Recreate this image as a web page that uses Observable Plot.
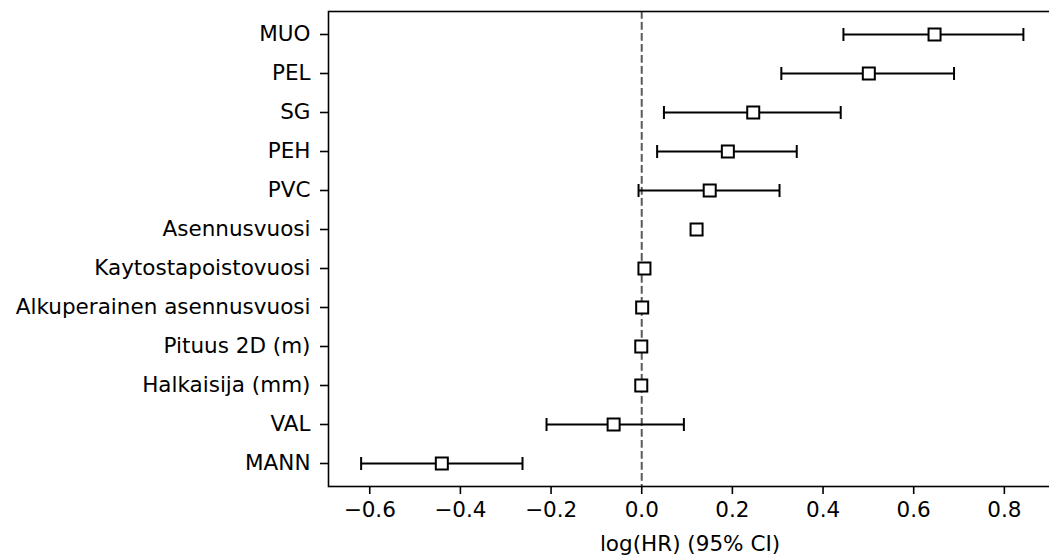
<!DOCTYPE html>
<html>
<head>
<meta charset="utf-8">
<script src="https://cdn.jsdelivr.net/npm/d3@7"></script>
<script src="https://cdn.jsdelivr.net/npm/@observablehq/plot@0.6"></script>
<style>
  html, body { margin: 0; padding: 0; background: #fff; overflow: hidden; }
  svg { overflow: hidden; }
  g[aria-label$="tick"] path, g[aria-label$="tick"] line { stroke-width: 1.6px; }
</style>
</head>
<body>
<div id="chart"></div>
<script>
const covariates = ["MUO", "PEL", "SG", "PEH", "PVC", "Asennusvuosi",
  "Kaytostapoistovuosi", "Alkuperainen asennusvuosi", "Pituus 2D (m)",
  "Halkaisija (mm)", "VAL", "MANN"];
const coef    = [0.646, 0.501, 0.246, 0.190, 0.150, 0.121, 0.006, 0.001, -0.001, -0.001, -0.062, -0.441];
const ciLower = [0.445, 0.308, 0.049, 0.034, -0.007, 0.118, 0.004, -0.001, -0.003, -0.003, -0.210, -0.619];
const ciUpper = [0.842, 0.689, 0.439, 0.342, 0.304, 0.124, 0.008, 0.003, 0.001, 0.001, 0.093, -0.263];
const xTicks = [-0.6, -0.4, -0.2, 0.0, 0.2, 0.4, 0.6, 0.8];
const xLabel = "log(HR) (95% CI)";

const rows = covariates.map((name, i) => ({name, coef: coef[i], lo: ciLower[i], hi: ciUpper[i]}));
const caps = rows.flatMap(d => [{name: d.name, x: d.lo}, {name: d.name, x: d.hi}]);

const vline = {
  draw(ctx, size) {
    const h = Math.sqrt(size / Math.PI);
    ctx.moveTo(0, -h); ctx.lineTo(0, h);
  }
};
const square = {
  draw(ctx, size) {
    const h = Math.sqrt(size / Math.PI);
    ctx.moveTo(-h, -h); ctx.lineTo(h, -h); ctx.lineTo(h, h); ctx.lineTo(-h, h); ctx.closePath();
  }
};

const chart = Plot.plot({
  width: 1049,
  height: 558,
  marginLeft: 328,
  marginRight: -2,
  marginTop: 11,
  marginBottom: 72,
  style: {fontFamily: "DejaVu Sans", fontSize: "21.5px", color: "#000", background: "#fff"},
  x: {domain: [-0.691, 0.904], ticks: xTicks, tickFormat: d3.format(".1f"), tickSize: 8, tickPadding: 7, label: null},
  y: {type: "point", domain: covariates, padding: 0.55, tickSize: 8, tickPadding: 10, label: null},
  marks: [
    Plot.ruleX([0], {stroke: "#000", strokeOpacity: 0.65, strokeWidth: 2, strokeDasharray: "7.7,3.3"}),
    Plot.ruleY(rows, {y: "name", x1: "lo", x2: "hi", stroke: "#000", strokeWidth: 2}),
    Plot.dot(caps, {x: "x", y: "name", symbol: vline, r: 6.5, stroke: "#000", strokeWidth: 2}),
    Plot.dot(rows, {x: "coef", y: "name", symbol: square, r: 6, fill: "#fff", stroke: "#000", strokeWidth: 2}),
    Plot.frame({stroke: "#000", strokeWidth: 1.6}),
    Plot.text([xLabel], {text: d => d, frameAnchor: "bottom", dy: 58, lineAnchor: "middle", fill: "#000"})
  ]
});
document.getElementById("chart").appendChild(chart);
</script>
</body>
</html>
